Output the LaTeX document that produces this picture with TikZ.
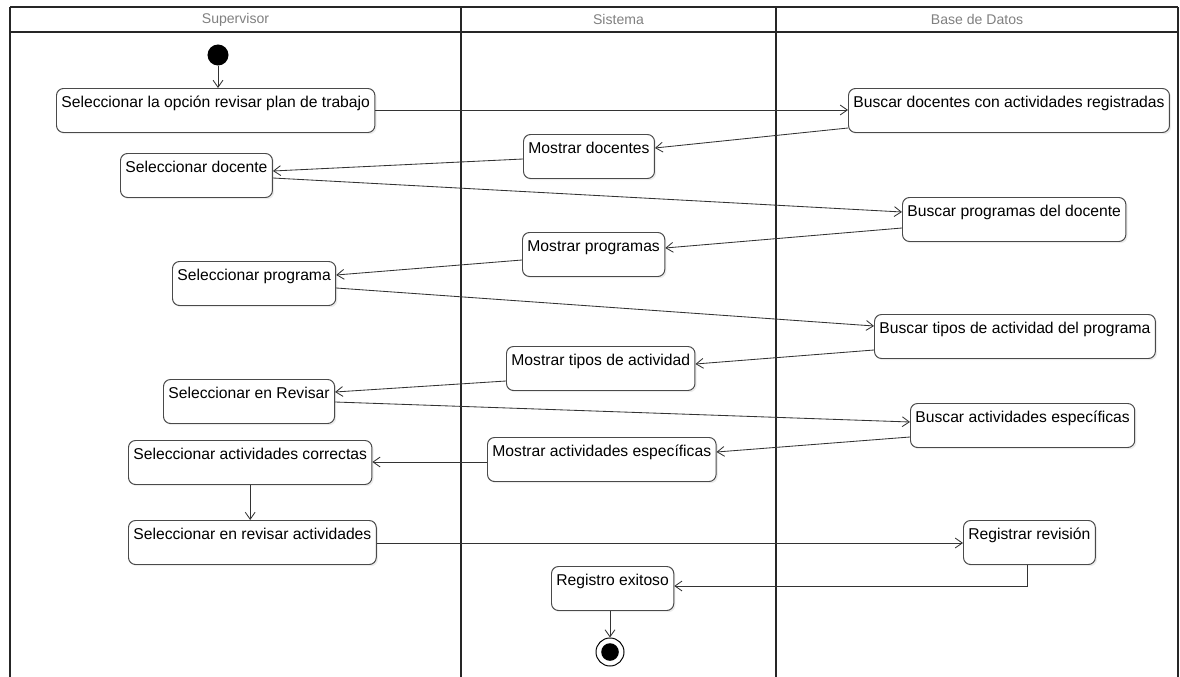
\documentclass[tikz,border=0pt]{standalone}
\usepackage{fontspec}
\setmainfont{Liberation Sans}
\usetikzlibrary{positioning,calc,arrows.meta,shadows}
\definecolor{headgray}{HTML}{808080}
\definecolor{boxline}{HTML}{4A4A4A}

\begin{document}
\begin{tikzpicture}[
    x=0.025cm, y=-0.025cm,
    act/.style={rectangle, rounded corners=5pt, draw=boxline, fill=white,
                line width=0.7pt, anchor=north west, inner xsep=3.5pt, inner ysep=0pt,
                text height=0.48cm, text depth=0.62cm,
                font=\fontsize{11.15}{13}\selectfont,
                drop shadow={shadow xshift=1.2pt, shadow yshift=-1.2pt, opacity=0.15}},
    lane/.style={line width=1.4pt, draw=black!85},
    head/.style={font=\fontsize{10}{12}\selectfont, text=headgray},
    flow/.style={draw=black!80, line width=0.6pt, -{Straight Barb[length=5pt,width=7pt]}},
    startnode/.style={circle, fill=black, inner sep=0pt, minimum size=0.525cm},
    endnode/.style={circle, draw=black, fill=white, line width=0.7pt, inner sep=0pt,
                    minimum size=0.7cm,
                    path picture={\fill[black] (path picture bounding box.center) circle (0.22cm);}}
]
\useasboundingbox (0,0) rectangle (1180,677);

% Swimlanes
\draw[lane] (10,7) -- (1178,7);
\draw[lane] (10,32) -- (1178,32);
\foreach \x in {10,461,776,1178}
    \draw[lane] (\x,7) -- (\x,677);
\node[head] (hsup) at (235.5,19.5) {Supervisor};
\node[head] (hsis) at (618.5,19.5) {Sistema};
\node[head] (hbd) at (977,19.5) {Base de Datos};

% Activities
\node[startnode] (ini) at (218,55) {};
\node[act] (selplan) at (56,88) {Seleccionar la opción revisar plan de trabajo};
\node[act] (busdoc) at (848,88) {Buscar docentes con actividades registradas};
\node[act] (mosdoc) at (523,134) {Mostrar docentes};
\node[act] (seldoc) at (120,153) {Seleccionar docente};
\node[act] (busprog) at (902,197) {Buscar programas del docente};
\node[act] (mosprog) at (522,232) {Mostrar programas};
\node[act] (selprog) at (172,261) {Seleccionar programa};
\node[act] (bustipo) at (874,314) {Buscar tipos de actividad del programa};
\node[act] (mostipo) at (506,346) {Mostrar tipos de actividad};
\node[act] (selrev) at (163,379) {Seleccionar en Revisar};
\node[act] (busesp) at (910,403) {Buscar actividades específicas};
\node[act] (mosesp) at (487,437) {Mostrar actividades específicas};
\node[act] (selcorr) at (128,440) {Seleccionar actividades correctas};
\node[act] (selact) at (128,520) {Seleccionar en revisar actividades};
\node[act] (regrev) at (963,520) {Registrar revisión};
\node[act] (regok) at (551,566) {Registro exitoso};
\node[endnode] (fin) at (610,652) {};

% Flow
\draw[flow] (ini) -- (ini |- selplan.north);
\draw[flow] ($(selplan.north east)+(0,22)$) -- ($(busdoc.north west)+(0,22)$);
\draw[flow] ($(busdoc.north west)+(0,40)$) -- ($(mosdoc.north east)+(0,14)$);
\draw[flow] ($(mosdoc.north west)+(0,25)$) -- ($(seldoc.north east)+(0,18)$);
\draw[flow] ($(seldoc.north east)+(0,25)$) -- ($(busprog.north west)+(0,15)$);
\draw[flow] ($(busprog.north west)+(0,31)$) -- ($(mosprog.north east)+(0,16)$);
\draw[flow] ($(mosprog.north west)+(0,28)$) -- ($(selprog.north east)+(0,14)$);
\draw[flow] ($(selprog.north east)+(0,27)$) -- ($(bustipo.north west)+(0,12)$);
\draw[flow] ($(bustipo.north west)+(0,36)$) -- ($(mostipo.north east)+(0,18)$);
\draw[flow] ($(mostipo.north west)+(0,35)$) -- ($(selrev.north east)+(0,13)$);
\draw[flow] ($(selrev.north east)+(0,23)$) -- ($(busesp.north west)+(0,19)$);
\draw[flow] ($(busesp.north west)+(0,34)$) -- ($(mosesp.north east)+(0,15)$);
\draw[flow] ($(mosesp.north west)+(0,25)$) -- ($(selcorr.north east)+(0,22)$);
\draw[flow] (selcorr.south) -- (selcorr.south |- selact.north);
\draw[flow] ($(selact.north east)+(0,23)$) -- ($(regrev.north west)+(0,23)$);
\draw[flow] ($(regrev.south)+(-2,0)$) |- ($(regok.north east)+(0,20)$);
\draw[flow] (fin |- regok.south) -- (fin);

\end{tikzpicture}
\end{document}
